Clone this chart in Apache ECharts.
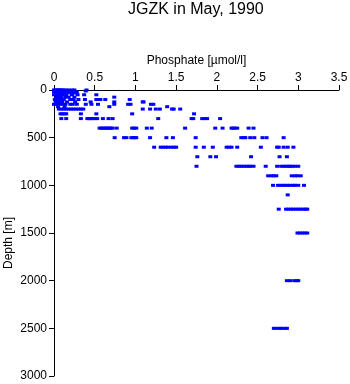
<!DOCTYPE html>
<html>
<head>
<meta charset="utf-8">
<script src="https://cdn.jsdelivr.net/npm/echarts@6/dist/echarts.min.js"></script>
<style>html,body{margin:0;padding:0;background:#fff}#c{width:350px;height:384px}</style>
</head>
<body>
<div id="c"></div>
<script>
const title = 'JGZK in May, 1990';
const xName = 'Phosphate [µmol/l]';
const yName = 'Depth [m]';
const xTicks = [0, 0.5, 1, 1.5, 2, 2.5, 3, 3.5];
const yTicks = [0, 500, 1000, 1500, 2000, 2500, 3000];

const depthLevels = [0, 10, 20, 30, 50, 75, 100, 125, 150, 175, 200, 250, 300, 400, 500, 600, 700, 800, 900, 1000, 1100, 1250, 1500, 2000, 2500];

const p0 = [0.0, 0.02, 0.04, 0.05, 0.07, 0.08, 0.1, 0.12, 0.15, 0.18, 0.22, 0.25, 0.4];
const p10 = [0.01, 0.03, 0.06, 0.09, 0.11, 0.14, 0.2, 0.24, 0.39];
const p20 = [0.0, 0.04, 0.08, 0.12, 0.17, 0.21, 0.28];
const p30 = [0.02, 0.05, 0.1, 0.13, 0.19, 0.23, 0.27];
const p50 = [0.0, 0.04, 0.07, 0.11, 0.15, 0.22, 0.29, 0.37, 0.52];
const p75 = [0.03, 0.06, 0.09, 0.14, 0.18, 0.25, 0.74];
const p100 = [0.01, 0.05, 0.08, 0.12, 0.2, 0.24, 0.3, 0.38, 0.52, 0.55, 0.57, 0.63, 0.93];
const p125 = [0.02, 0.06, 0.1, 0.16, 0.26, 0.45, 0.74, 1.09, 1.1];
const p150 = [0.0, 0.04, 0.07, 0.11, 0.14, 0.2, 0.23, 0.28, 0.39, 0.46, 0.54, 0.74, 0.91, 0.94, 1.19, 1.22];
const p175 = [0.05, 0.13, 0.68, 1.39];
const p200 = [0.06, 0.09, 0.12, 0.15, 0.18, 0.21, 0.24, 0.27, 0.3, 0.33, 0.36, 1.09, 1.18, 1.25, 1.3, 1.45, 1.47, 1.55];
const p250 = [0.08, 0.1, 0.13, 0.15, 0.33, 0.52, 0.96, 1.72];
const p300 = [0.09, 0.15, 0.33, 0.41, 0.43, 0.45, 0.47, 0.5, 0.53, 0.6, 0.67, 0.72, 1.28, 1.69, 1.71, 1.82, 1.85, 1.88, 2.04];
const p400 = [0.56, 0.58, 0.6, 0.62, 0.64, 0.66, 0.68, 0.7, 0.72, 0.77, 0.96, 0.98, 1.01, 1.14, 1.2, 1.61, 1.98, 2.07, 2.18, 2.2, 2.22, 2.25, 2.39, 2.45];
const p500 = [0.745, 0.86, 0.89, 0.95, 0.97, 0.99, 1.01, 1.18, 1.38, 1.46, 1.74, 2.3, 2.33, 2.35, 2.41, 2.46, 2.56, 2.61, 2.82];
const p600 = [1.23, 1.31, 1.34, 1.37, 1.4, 1.44, 1.47, 1.5, 1.74, 1.84, 1.95, 2.12, 2.15, 2.18, 2.25, 2.54, 2.74, 2.76, 2.82, 2.87, 2.94];
const p700 = [1.76, 1.92, 1.99, 2.42, 2.77, 2.86];
const p800 = [1.75, 2.24, 2.27, 2.3, 2.33, 2.36, 2.39, 2.41, 2.45, 2.6, 2.74, 2.79, 2.82, 2.85, 2.88, 2.9, 2.93, 2.96, 3.0];
const p900 = [2.63, 2.67, 2.7, 2.73, 2.92, 2.96, 2.99, 3.03];
const p1000 = [2.69, 2.75, 2.78, 2.81, 2.84, 2.87, 2.9, 2.94, 2.96, 3.0, 3.07];
const p1100 = [2.87];
const p1250 = [2.76, 2.85, 2.88, 2.91, 2.94, 2.97, 3.0, 3.03, 3.06, 3.09, 3.11];
const p1500 = [2.99, 3.02, 3.05, 3.08, 3.11];
const p2000 = [2.86, 2.9, 2.95, 2.98, 3.0];
const p2500 = [2.7, 2.73, 2.77, 2.79, 2.83, 2.86];

const phosphateByDepth = [p0, p10, p20, p30, p50, p75, p100, p125, p150, p175, p200, p250, p300, p400, p500, p600, p700, p800, p900, p1000, p1100, p1250, p1500, p2000, p2500];

const points = [];
depthLevels.forEach((d, i) => phosphateByDepth[i].forEach(v => points.push([v, d])));

const FONT = 'Liberation Sans, Arial, Helvetica, sans-serif';
const chart = echarts.init(document.getElementById('c'), null, {renderer: 'canvas'});
chart.setOption({
  animation: false,
  backgroundColor: '#ffffff',
  title: {
    text: title, left: 128, top: 2, padding: 0,
    textStyle: {fontFamily: FONT, fontSize: 16, fontWeight: 'normal', color: '#000'}
  },
  grid: {left: 54, right: 11, top: 90, bottom: 8, containLabel: false, outerBoundsMode: 'none'},
  xAxis: {
    type: 'value', position: 'top', min: xTicks[0], max: xTicks[xTicks.length - 1], interval: 0.5,
    name: xName, nameLocation: 'middle', nameGap: 23, nameMoveOverlap: false,
    nameTextStyle: {fontFamily: FONT, fontSize: 12, color: '#000'},
    axisLine: {show: true, onZero: false, lineStyle: {color: '#000', width: 1}},
    axisTick: {show: true, length: 5, lineStyle: {color: '#000'}},
    axisLabel: {fontFamily: FONT, fontSize: 12, color: '#000', margin: 6, formatter: v => String(v)},
    splitLine: {show: false}
  },
  yAxis: {
    type: 'value', inverse: true, min: yTicks[0], max: yTicks[yTicks.length - 1], interval: 500,
    name: yName, nameLocation: 'middle', nameGap: 39, nameRotate: 90, nameMoveOverlap: false,
    nameTextStyle: {fontFamily: FONT, fontSize: 12, color: '#000', padding: [0, 20, 0, 0]},
    axisLine: {show: true, onZero: false, lineStyle: {color: '#000', width: 1}},
    axisTick: {show: true, length: 5, lineStyle: {color: '#000'}},
    axisLabel: {fontFamily: FONT, fontSize: 12, color: '#000', margin: 7, formatter: v => String(v)},
    splitLine: {show: false}
  },
  series: [{
    type: 'scatter',
    data: points,
    symbol: 'rect',
    symbolSize: [4, 3],
    itemStyle: {color: '#0000ff', opacity: 1},
    silent: true
  }]
});
</script>
</body>
</html>
